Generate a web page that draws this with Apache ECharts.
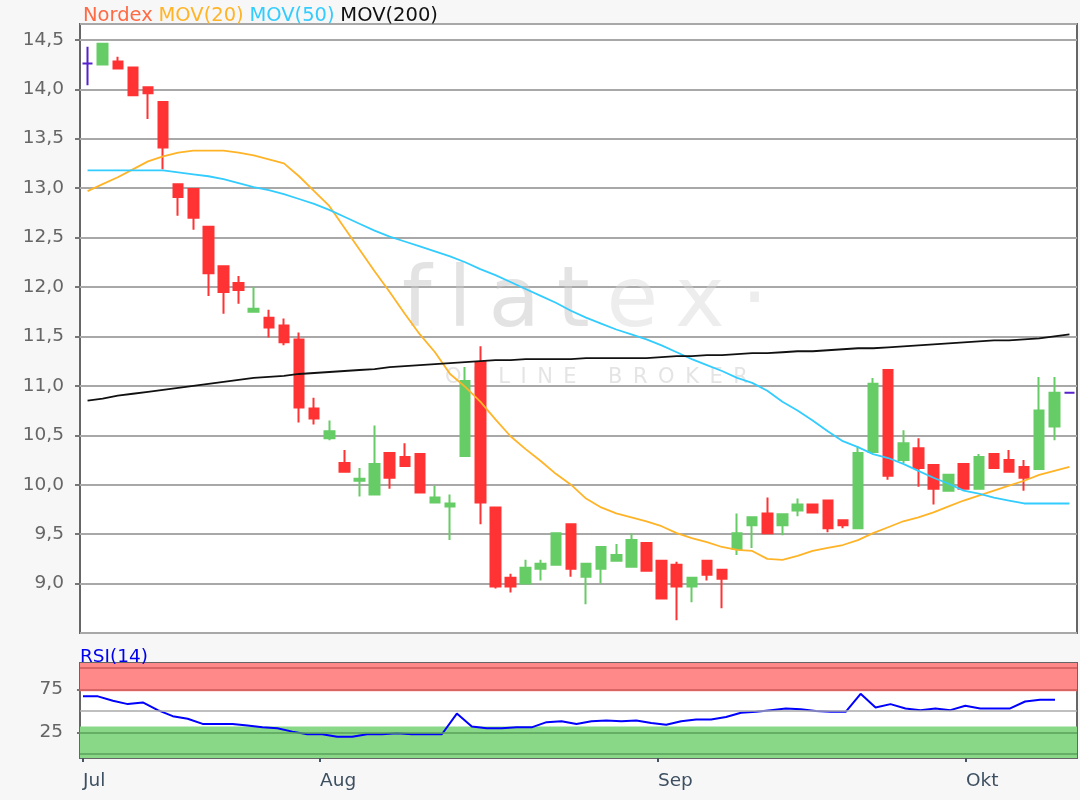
<!DOCTYPE html>
<html>
<head>
<meta charset="utf-8">
<script src="https://cdn.jsdelivr.net/npm/echarts@6/dist/echarts.min.js"></script>
<style>
html, body { margin: 0; padding: 0; background: #f7f7f7; }
#chart { width: 1080px; height: 800px; }
</style>
</head>
<body>
<div id="chart"></div>
<script>
// trading days shown (first and last slot only carry the purple marker)
const days = [
  '10.07', '11.07', '12.07', '15.07', '16.07', '17.07', '18.07', '19.07', '22.07', '23.07', '24.07', '25.07', '26.07', '29.07', '30.07', '31.07',
  '01.08', '02.08', '05.08', '06.08', '07.08', '08.08', '09.08', '12.08', '13.08', '14.08', '15.08', '16.08', '19.08', '20.08', '21.08', '22.08', '23.08', '26.08', '27.08', '28.08', '29.08', '30.08',
  '02.09', '03.09', '04.09', '05.09', '06.09', '09.09', '10.09', '11.09', '12.09', '13.09', '16.09', '17.09', '18.09', '19.09', '20.09', '23.09', '24.09', '25.09', '26.09', '27.09', '30.09',
  '01.10', '02.10', '03.10', '04.10', '07.10', '08.10', '09.10'
];

// Nordex candles for days[1..64]: [open, close, low, high]
const nordex = [
  [14.25, 14.46, 14.25, 14.46], [14.28, 14.21, 14.21, 14.33], [14.22, 13.94, 13.94, 14.22], [14.02, 13.96, 13.70, 14.02],
  [13.87, 13.41, 13.19, 13.87], [13.04, 12.91, 12.72, 13.04], [12.99, 12.70, 12.58, 12.99], [12.61, 12.14, 11.91, 12.61],
  [12.21, 11.95, 11.73, 12.21], [12.04, 11.97, 11.83, 12.11], [11.75, 11.78, 11.75, 12.00], [11.69, 11.59, 11.49, 11.77],
  [11.61, 11.44, 11.41, 11.68], [11.47, 10.78, 10.63, 11.54], [10.77, 10.67, 10.61, 10.88], [10.47, 10.54, 10.45, 10.65],
  [10.22, 10.13, 10.13, 10.35], [10.04, 10.06, 9.88, 10.17], [9.90, 10.21, 9.90, 10.60], [10.32, 10.07, 9.96, 10.32],
  [10.28, 10.19, 10.19, 10.42], [10.31, 9.92, 9.92, 10.31], [9.82, 9.87, 9.82, 9.99], [9.78, 9.81, 9.44, 9.90],
  [10.29, 11.05, 10.29, 11.19], [11.24, 9.82, 9.60, 11.40], [9.77, 8.97, 8.95, 9.77], [9.06, 8.97, 8.91, 9.10],
  [9.00, 9.16, 9.00, 9.24], [9.15, 9.20, 9.03, 9.24], [9.19, 9.51, 9.19, 9.51], [9.60, 9.15, 9.07, 9.60],
  [9.07, 9.20, 8.79, 9.20], [9.15, 9.37, 9.00, 9.37], [9.23, 9.29, 9.23, 9.40], [9.17, 9.44, 9.17, 9.51],
  [9.41, 9.13, 9.13, 9.41], [9.23, 8.85, 8.85, 9.23], [9.19, 8.97, 8.63, 9.22], [8.97, 9.06, 8.81, 9.06],
  [9.23, 9.09, 9.03, 9.23], [9.14, 9.05, 8.75, 9.14], [9.35, 9.51, 9.29, 9.71], [9.59, 9.67, 9.36, 9.67],
  [9.71, 9.51, 9.50, 9.87], [9.59, 9.70, 9.49, 9.70], [9.74, 9.80, 9.68, 9.86], [9.80, 9.72, 9.72, 9.81],
  [9.84, 9.56, 9.52, 9.84], [9.64, 9.59, 9.56, 9.65], [9.56, 10.32, 9.56, 10.39], [10.33, 11.02, 10.33, 11.08],
  [11.16, 10.09, 10.05, 11.16], [10.25, 10.42, 10.22, 10.55], [10.37, 10.17, 9.98, 10.47], [10.20, 9.96, 9.80, 10.20],
  [9.94, 10.10, 9.94, 10.10], [10.21, 9.96, 9.96, 10.21], [9.96, 10.28, 9.96, 10.31], [10.31, 10.17, 10.17, 10.31],
  [10.25, 10.13, 10.13, 10.35], [10.18, 10.07, 9.94, 10.25], [10.16, 10.75, 10.16, 11.09], [10.59, 10.93, 10.45, 11.09]
];
const firstMark = [14.26, 14.26, 14.04, 14.43];
const lastMark = [10.93, 10.93, 10.93, 10.93];

const mov20 = [
  12.97, 13.04, 13.11, 13.19, 13.27, 13.32, 13.36, 13.38, 13.38, 13.38, 13.36, 13.33, 13.29, 13.25, 13.12, 12.97,
  12.82, 12.60, 12.38, 12.16, 11.95, 11.73, 11.52, 11.34, 11.12, 10.99, 10.84, 10.66, 10.49, 10.36, 10.24, 10.11,
  10.00, 9.86, 9.77, 9.71, 9.67, 9.63, 9.58, 9.51, 9.46, 9.42, 9.37, 9.34, 9.33, 9.25, 9.24, 9.28,
  9.33, 9.36, 9.39, 9.44, 9.51, 9.57, 9.63, 9.67, 9.72, 9.78, 9.84, 9.89, 9.94, 9.99, 10.04, 10.10, 10.14, 10.18
];
const mov50 = [
  13.18, 13.18, 13.18, 13.18, 13.18, 13.18, 13.16, 13.14, 13.12, 13.09, 13.05, 13.01, 12.98, 12.94, 12.89, 12.84,
  12.78, 12.71, 12.64, 12.57, 12.51, 12.46, 12.41, 12.36, 12.31, 12.25, 12.18, 12.12, 12.05, 11.98, 11.91, 11.84,
  11.76, 11.69, 11.63, 11.57, 11.52, 11.47, 11.41, 11.34, 11.27, 11.21, 11.15, 11.08, 11.03, 10.95, 10.84, 10.75,
  10.65, 10.54, 10.44, 10.38, 10.31, 10.27, 10.21, 10.14, 10.07, 10.01, 9.94, 9.91, 9.87, 9.84, 9.81, 9.81, 9.81, 9.81
];
const mov200 = [
  10.85, 10.87, 10.90, 10.92, 10.94, 10.96, 10.98, 11.00, 11.02, 11.04, 11.06, 11.08, 11.09, 11.10, 11.12, 11.13,
  11.14, 11.15, 11.16, 11.17, 11.19, 11.20, 11.21, 11.22, 11.23, 11.24, 11.25, 11.26, 11.26, 11.27, 11.27, 11.27,
  11.27, 11.28, 11.28, 11.28, 11.28, 11.28, 11.29, 11.30, 11.30, 11.31, 11.31, 11.32, 11.33, 11.33, 11.34, 11.35,
  11.35, 11.36, 11.37, 11.38, 11.38, 11.39, 11.40, 11.41, 11.42, 11.43, 11.44, 11.45, 11.46, 11.46, 11.47, 11.48, 11.50, 11.52
];
const rsi14 = [
  67, 67, 62, 58, 60, 51, 44, 41, 35, 35, 35, 33, 31, 30, 26, 23,
  23, 20, 20, 23, 23, 24, 23, 23, 23, 47, 32, 30, 30, 31, 31, 37,
  38, 35, 38, 39, 38, 39, 36, 34, 38, 40, 40, 43, 48, 49, 51, 53,
  52, 50, 49, 49, 70, 54, 58, 53, 51, 53, 51, 56, 53, 53, 53, 61, 63, 63
];

const priceTicks = { min: 8.5, max: 14.66, step: 0.5 };
const rsiTicks = [25, 75];
const rsiLevels = [0, 25, 50, 75, 100];
const monthLabels = ['Jul', 'Aug', 'Sep', 'Okt'];
const monthPos = [0, 15.85, 38.45, 59.05];

const FONT = 'DejaVu Sans';
const candleData = ['-'].concat(nordex, ['-']);
const markData = days.map((d, i) => i === 0 ? firstMark : (i === days.length - 1 ? lastMark : '-'));
const rsiData = rsi14.map((v, i) => [i, v]);
const RSI_MIN = -4.65, RSI_MAX = 105.8;
const legendFont = { fontSize: 19.5, fontFamily: FONT, fontWeight: 'normal' };

const chart = echarts.init(document.getElementById('chart'));
chart.setOption({
  animation: false,
  backgroundColor: '#f7f7f7',
  textStyle: { fontFamily: FONT },
  title: [{
    left: 78, top: 1,
    text: '{a|Nordex} {b|MOV(20)} {c|MOV(50)} {d|MOV(200)}',
    textStyle: {
      fontWeight: 'normal',
      rich: {
        a: Object.assign({ color: '#ff6a45' }, legendFont),
        b: Object.assign({ color: '#ffb428' }, legendFont),
        c: Object.assign({ color: '#33ccff' }, legendFont),
        d: Object.assign({ color: '#111111' }, legendFont)
      }
    }
  }, {
    left: 75, top: 643,
    text: 'RSI(14)',
    textStyle: { color: '#0000ee', fontSize: 18.5, fontFamily: FONT, fontWeight: 'normal' }
  }],
  graphic: [{
    type: 'text', left: 402, top: 262, z: 1, silent: true,
    style: {
      text: '{a|f\u2009l\u2009a\u2009t\u2009}{b|e\u2009x\u2009\u00b7}',
      rich: {
        a: { fontSize: 84, fontFamily: FONT, fill: 'rgba(200,200,200,0.5)' },
        b: { fontSize: 84, fontFamily: FONT, fill: 'rgba(215,215,215,0.45)' }
      }
    }
  }, {
    type: 'text', left: 445, top: 367, z: 1, silent: true,
    style: {
      text: 'O\u2002N\u2002L\u2002I\u2002N\u2002E\u2003\u2002B\u2002R\u2002O\u2002K\u2002E\u2002R',
      fontSize: 21, fontFamily: FONT, fill: 'rgba(195,195,195,0.45)'
    }
  }],
  grid: [
    { left: 80, top: 24, width: 997, height: 609, show: true, backgroundColor: '#ffffff', borderColor: '#666666', borderWidth: 2 },
    { left: 80, top: 663, width: 997, height: 95, show: true, backgroundColor: '#ffffff', borderColor: '#666666', borderWidth: 2 }
  ],
  xAxis: [{
    type: 'category', gridIndex: 0, data: days,
    axisLine: { show: false }, axisTick: { show: false }, axisLabel: { show: false }, splitLine: { show: false }
  }, {
    type: 'value', gridIndex: 1, min: -0.2, max: 66.47,
    axisLine: { show: false },
    splitLine: { show: false },
    axisTick: { show: true, customValues: monthPos, length: 8, lineStyle: { color: '#445566', width: 2 } },
    axisLabel: {
      customValues: monthPos, align: 'left', margin: 14,
      color: '#3d4f60', fontSize: 18.5, fontFamily: FONT,
      formatter: v => monthLabels[monthPos.indexOf(v)]
    }
  }],
  yAxis: [{
    type: 'value', gridIndex: 0, min: priceTicks.min, max: priceTicks.max, interval: priceTicks.step,
    axisLine: { show: false },
    axisTick: { show: true, length: 5, lineStyle: { color: '#777777', width: 2 } },
    axisLabel: {
      showMinLabel: false, showMaxLabel: false, margin: 16,
      color: '#666666', fontSize: 18.5, fontFamily: FONT,
      formatter: v => v.toFixed(1).replace('.', ',')
    },
    splitLine: { show: true, lineStyle: { color: '#a8a8a8', width: 2 } }
  }, {
    type: 'value', gridIndex: 1, min: RSI_MIN, max: RSI_MAX,
    axisLine: { show: false },
    splitLine: { show: false },
    axisTick: { show: true, customValues: rsiTicks, length: 6, lineStyle: { color: '#777777', width: 2 } },
    axisLabel: { customValues: rsiTicks, margin: 17, color: '#666666', fontSize: 18.5, fontFamily: FONT }
  }],
  series: [{
    name: 'Nordex', type: 'candlestick', xAxisIndex: 0, yAxisIndex: 0,
    data: candleData, barWidth: 10,
    itemStyle: { color: '#66cc66', color0: '#ff3333', borderColor: '#66cc66', borderColor0: '#ff3333', borderWidth: 2 }
  }, {
    name: 'Marker', type: 'candlestick', xAxisIndex: 0, yAxisIndex: 0,
    data: markData, barWidth: 10,
    itemStyle: { color: '#5522cc', color0: '#5522cc', borderColor: '#5522cc', borderColor0: '#5522cc', borderWidth: 2 }
  }, {
    name: 'MOV(20)', type: 'line', xAxisIndex: 0, yAxisIndex: 0, data: mov20,
    symbol: 'none', lineStyle: { color: '#ffb428', width: 1.8 }, z: 3
  }, {
    name: 'MOV(50)', type: 'line', xAxisIndex: 0, yAxisIndex: 0, data: mov50,
    symbol: 'none', lineStyle: { color: '#33ccff', width: 1.8 }, z: 3
  }, {
    name: 'MOV(200)', type: 'line', xAxisIndex: 0, yAxisIndex: 0, data: mov200,
    symbol: 'none', lineStyle: { color: '#111111', width: 1.8 }, z: 3
  }, {
    name: 'RSI(14)', type: 'line', xAxisIndex: 1, yAxisIndex: 1, data: rsiData,
    symbol: 'none', lineStyle: { color: '#0000ff', width: 2 }, z: 3,
    markArea: {
      silent: true,
      data: [
        [{ yAxis: 73, itemStyle: { color: '#ff8888' } }, { yAxis: RSI_MAX }],
        [{ yAxis: RSI_MIN, itemStyle: { color: '#88d888' } }, { yAxis: 32 }]
      ]
    },
    markLine: {
      silent: true, symbol: 'none', label: { show: false },
      data: rsiLevels.map(v => ({
        yAxis: v,
        lineStyle: { type: 'solid', width: 1.5, color: v >= 75 ? '#cc5a5a' : (v <= 25 ? '#5aa05a' : '#aaaaaa') }
      }))
    }
  }]
});
</script>
</body>
</html>
